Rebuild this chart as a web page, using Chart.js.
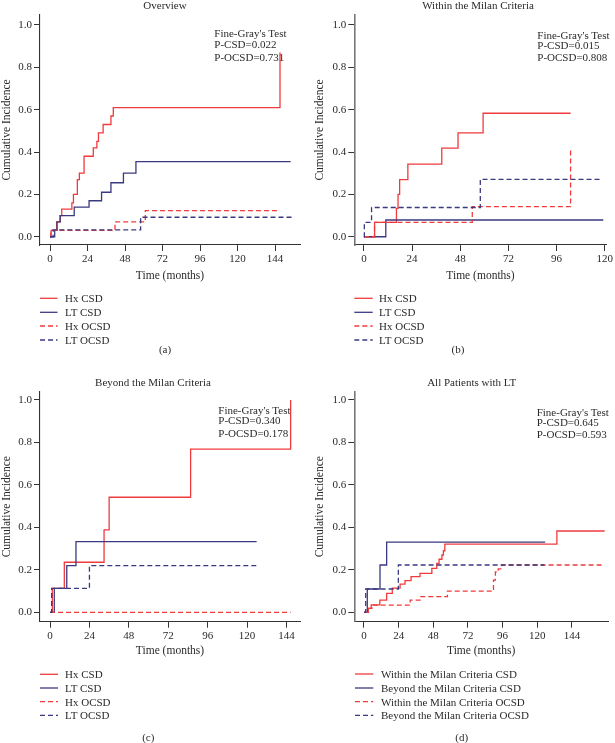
<!DOCTYPE html>
<html><head><meta charset="utf-8">
<script src="https://cdn.jsdelivr.net/npm/chart.js@4.4.0/dist/chart.umd.min.js"></script>
<style>
body{margin:0;width:615px;height:743px;background:#fff;position:relative;overflow:hidden;font-family:"Liberation Serif",serif;color:#2a2a2a}
canvas{position:absolute}
.t{position:absolute;white-space:nowrap;font-size:11px;line-height:1}
.c{transform:translate(-50%,-50%)}
.l{transform:translateY(-50%)}
svg.ln{position:absolute;overflow:visible}
</style></head><body>
<script>
// ---------- data ----------
const xTickVals = [0, 24, 48, 72, 96, 120, 144];
const xTickValsB = [0, 24, 48, 72, 96, 120];
const yTickVals = [0, 0.2, 0.4, 0.6, 0.8, 1.0];

const panelTitles = ['Overview', 'Within the Milan Criteria', 'Beyond the Milan Criteria', 'All Patients with LT'];
const captions = ['(a)', '(b)', '(c)', '(d)'];
const testA = ["Fine-Gray's Test", 'P-CSD=0.022', 'P-OCSD=0.731'];
const testB = ["Fine-Gray's Test", 'P-CSD=0.015', 'P-OCSD=0.808'];
const testC = ["Fine-Gray's Test", 'P-CSD=0.340', 'P-OCSD=0.178'];
const testD = ["Fine-Gray's Test", 'P-CSD=0.645', 'P-OCSD=0.593'];
const legendABC = ['Hx CSD', 'LT CSD', 'Hx OCSD', 'LT OCSD'];
const legendD = ['Within the Milan Criteria CSD', 'Beyond the Milan Criteria CSD', 'Within the Milan Criteria OCSD', 'Beyond the Milan Criteria OCSD'];

// (a) Overview
const aHxCsdT = [0, 0.7, 4.3, 6.5, 7.5, 14, 15, 17.5, 18.8, 21.8, 27.7, 30, 31, 34, 39, 40.5, 147.2];
const aHxCsdV = [0, 0.03, 0.07, 0.10, 0.13, 0.16, 0.20, 0.27, 0.30, 0.38, 0.42, 0.45, 0.49, 0.53, 0.57, 0.61, 0.87];
const aLtCsdT = [0, 3, 4.5, 6.5, 15.5, 25, 33, 39, 47, 55, 154];
const aLtCsdV = [0, 0.03, 0.07, 0.10, 0.14, 0.17, 0.21, 0.255, 0.30, 0.355, 0.355];
const aHxOcsdT = [0, 0.5, 41.6, 61, 146];
const aHxOcsdV = [0, 0.03, 0.07, 0.123, 0.123];
const aLtOcsdT = [0, 2, 58, 155];
const aLtOcsdV = [0, 0.032, 0.092, 0.092];

// (b) Within the Milan Criteria
const bHxCsdT = [0, 5.3, 16.2, 17, 17.8, 21.9, 38.8, 46.9, 59.4, 103];
const bHxCsdV = [0, 0.068, 0.134, 0.20, 0.27, 0.343, 0.418, 0.49, 0.583, 0.583];
const bLtCsdT = [0, 10.9, 119.3];
const bLtCsdV = [0, 0.079, 0.079];
const bHxOcsdT = [0, 5.3, 54, 103];
const bHxOcsdV = [0, 0.068, 0.142, 0.41];
const bLtOcsdT = [0, 0.2, 3.8, 58, 118.4];
const bLtOcsdV = [0, 0.068, 0.138, 0.271, 0.271];

// (c) Beyond the Milan Criteria
const cHxCsdT = [0, 1.4, 8.7, 32.9, 36, 85.6, 146.5];
const cHxCsdV = [0, 0.113, 0.236, 0.388, 0.542, 0.769, 1.0];
const cLtCsdT = [0, 2.6, 10.2, 15.8, 125.8];
const cLtCsdV = [0, 0.113, 0.22, 0.333, 0.333];
const cHxOcsdT = [0, 146.5];
const cHxOcsdV = [0, 0];
const cLtOcsdT = [0, 1, 24, 125.8];
const cLtOcsdV = [0, 0.113, 0.22, 0.22];

// (d) All patients with LT
const dWithinCsdT = [0, 3, 5, 11, 15.7, 19.6, 25, 28.4, 32.6, 38.8, 47, 50.4, 52, 54, 55, 56, 133.6, 166.7];
const dWithinCsdV = [0, 0.019, 0.035, 0.058, 0.089, 0.114, 0.133, 0.149, 0.168, 0.184, 0.207, 0.23, 0.25, 0.27, 0.29, 0.321, 0.383, 0.383];
const dBeyondCsdT = [0, 2.3, 11.1, 15.7, 125.5];
const dBeyondCsdV = [0, 0.11, 0.223, 0.331, 0.331];
const dWithinOcsdT = [0, 3, 5.5, 32, 38.8, 57.8, 89.7, 91, 93, 95.5, 166.7];
const dWithinOcsdV = [0, 0.019, 0.034, 0.058, 0.074, 0.10, 0.152, 0.19, 0.205, 0.223, 0.223];
const dBeyondOcsdT = [0, 1.2, 23.8, 125];
const dBeyondOcsdV = [0, 0.11, 0.223, 0.223];

// ---------- styling ----------
const RED = '#ef3b3d';
const BLUE = '#3a3a80';
const DASH = [5, 3];
const FONT = '"Liberation Serif", serif';
const styles = [
  {color: RED, dash: []},
  {color: BLUE, dash: []},
  {color: RED, dash: DASH},
  {color: BLUE, dash: DASH}
];

const panels = [
  {cv: [0, 0, 307, 290], area: [40, 15, 300, 245], x: [-6.4, 160], y: [-0.039, 1.047], xt: xTickVals,
   series: [[aHxCsdT, aHxCsdV], [aLtCsdT, aLtCsdV], [aHxOcsdT, aHxOcsdV], [aLtOcsdT, aLtOcsdV]],
   yAxisColor: '#333', yAxisW: 1.1, ytitleX: 7, xtitleY: 276,
   title: [165, 5], test: testA, testPos: [214.3, [33.3, 44, 56.7]],
   legend: legendABC, legPos: [40, 57.5, 65, [298.3, 312.3, 326, 340]], cap: [165, 349]},
  {cv: [307, 0, 308, 290], area: [354.3, 15, 607, 245], x: [-4.8, 121], y: [-0.039, 1.047], xt: xTickValsB,
   series: [[bHxCsdT, bHxCsdV], [bLtCsdT, bLtCsdV], [bHxOcsdT, bHxOcsdV], [bLtOcsdT, bLtOcsdV]],
   yAxisColor: '#777', yAxisW: 1.6, ytitleX: 320, xtitleY: 276,
   title: [478, 5], test: testB, testPos: [537.3, [35, 45, 57]],
   legend: legendABC, legPos: [354.3, 372.7, 379, [298.3, 312.3, 326, 340]], cap: [458, 349]},
  {cv: [0, 375, 307, 290], area: [40, 391.7, 300, 621.7], x: [-6.1, 152.2], y: [-0.044, 1.039], xt: xTickVals,
   series: [[cHxCsdT, cHxCsdV], [cLtCsdT, cLtCsdV], [cHxOcsdT, cHxOcsdV], [cLtOcsdT, cLtOcsdV]],
   yAxisColor: '#333', yAxisW: 1.1, ytitleX: 7, xtitleY: 650.7,
   title: [153, 381.7], test: testC, testPos: [218.3, [410, 420, 432.7]],
   legend: legendABC, legPos: [40, 58, 65, [674.3, 688, 701.7, 715.3]], cap: [148.3, 736.7]},
  {cv: [307, 375, 308, 290], area: [354.3, 391.7, 608, 621.7], x: [-6.7, 169], y: [-0.044, 1.039], xt: xTickVals,
   series: [[dWithinCsdT, dWithinCsdV], [dBeyondCsdT, dBeyondCsdV], [dWithinOcsdT, dWithinOcsdV], [dBeyondOcsdT, dBeyondOcsdV]],
   yAxisColor: '#777', yAxisW: 1.6, ytitleX: 320, xtitleY: 650.7,
   title: [471.7, 381.7], test: testD, testPos: [536.7, [411.7, 421.7, 434]],
   legend: legendD, legPos: [355, 373.3, 381, [674, 688, 701.7, 715.3]], cap: [461.7, 737]}
];

const SVGNS = 'http://www.w3.org/2000/svg';
function addText(txt, x, y, cls) {
  const d = document.createElement('div');
  d.className = 't ' + cls;
  d.style.left = x + 'px';
  d.style.top = y + 'px';
  d.textContent = txt;
  document.body.appendChild(d);
  return d;
}
function addLine(x1, x2, y, st) {
  const svg = document.createElementNS(SVGNS, 'svg');
  svg.setAttribute('class', 'ln');
  svg.setAttribute('width', 615);
  svg.setAttribute('height', 743);
  svg.style.left = '0px';
  svg.style.top = '0px';
  const ln = document.createElementNS(SVGNS, 'line');
  ln.setAttribute('x1', x1); ln.setAttribute('x2', x2);
  ln.setAttribute('y1', y); ln.setAttribute('y2', y);
  ln.setAttribute('stroke', st.color);
  ln.setAttribute('stroke-width', 1.3);
  if (st.dash.length) ln.setAttribute('stroke-dasharray', st.dash.join(' '));
  svg.appendChild(ln);
  document.body.appendChild(svg);
}

panels.forEach((p, idx) => {
  const [cl, ct, cw, ch] = p.cv;
  const [al, at, ar, ab] = p.area;
  const cvs = document.createElement('canvas');
  cvs.width = cw; cvs.height = ch;
  cvs.style.left = cl + 'px'; cvs.style.top = ct + 'px';
  cvs.style.width = cw + 'px'; cvs.style.height = ch + 'px';
  document.body.appendChild(cvs);

  const tickFont = {family: FONT, size: 11};
  const titleFont = {family: FONT, size: 11.5, lineHeight: 1.2};
  const datasets = p.series.map((s, i) => ({
    data: s[0].map((t, k) => ({x: t, y: s[1][k]})),
    borderColor: styles[i].color,
    borderDash: styles[i].dash,
    borderWidth: 1.3,
    pointRadius: 0,
    fill: false,
    stepped: true,
    tension: 0
  })).reverse();

  new Chart(cvs, {
    type: 'line',
    data: {datasets},
    options: {
      responsive: false,
      devicePixelRatio: 1,
      animation: false,
      events: [],
      layout: {padding: {top: at - ct, right: cl + cw - ar, left: 0, bottom: 0}},
      plugins: {legend: {display: false}, tooltip: {enabled: false}, title: {display: false}},
      scales: {
        x: {
          type: 'linear', min: p.x[0], max: p.x[1],
          afterBuildTicks: s => { s.ticks = p.xt.map(v => ({value: v})); },
          afterFit: s => { s.height = ct + ch - ab; },
          grid: {display: true, drawOnChartArea: false, drawTicks: true, tickLength: 6, color: '#333', lineWidth: 1},
          border: {display: true, color: '#333', width: 1.1},
          ticks: {color: '#2a2a2a', font: tickFont, padding: 2, maxRotation: 0, autoSkip: false, callback: v => String(v)},
          title: {display: true, text: 'Time (months)', color: '#2a2a2a', font: titleFont,
                  padding: {top: 0, bottom: (ct + ch - p.xtitleY) - 6.9}}
        },
        y: {
          type: 'linear', min: p.y[0], max: p.y[1],
          afterBuildTicks: s => { s.ticks = yTickVals.map(v => ({value: v})); },
          afterFit: s => { s.width = al - cl; },
          grid: {display: true, drawOnChartArea: false, drawTicks: true, tickLength: 6, color: '#333', lineWidth: 1},
          border: {display: true, color: p.yAxisColor, width: p.yAxisW},
          ticks: {color: '#2a2a2a', font: tickFont, padding: 2, autoSkip: false, callback: v => Number(v).toFixed(1)},
          title: {display: true, text: 'Cumulative Incidence', color: '#2a2a2a', font: titleFont,
                  padding: {top: (p.ytitleX - cl) - 6.9, bottom: 0}}
        }
      }
    }
  });

  addText(panelTitles[idx], p.title[0], p.title[1], 'c');
  p.test.forEach((s, i) => addText(s, p.testPos[0], p.testPos[1][i], 'l'));
  p.legend.forEach((s, i) => {
    addLine(p.legPos[0], p.legPos[1], p.legPos[3][i], styles[i]);
    addText(s, p.legPos[2], p.legPos[3][i], 'l');
  });
  addText(captions[idx], p.cap[0], p.cap[1], 'c');
});
</script>
</body></html>
